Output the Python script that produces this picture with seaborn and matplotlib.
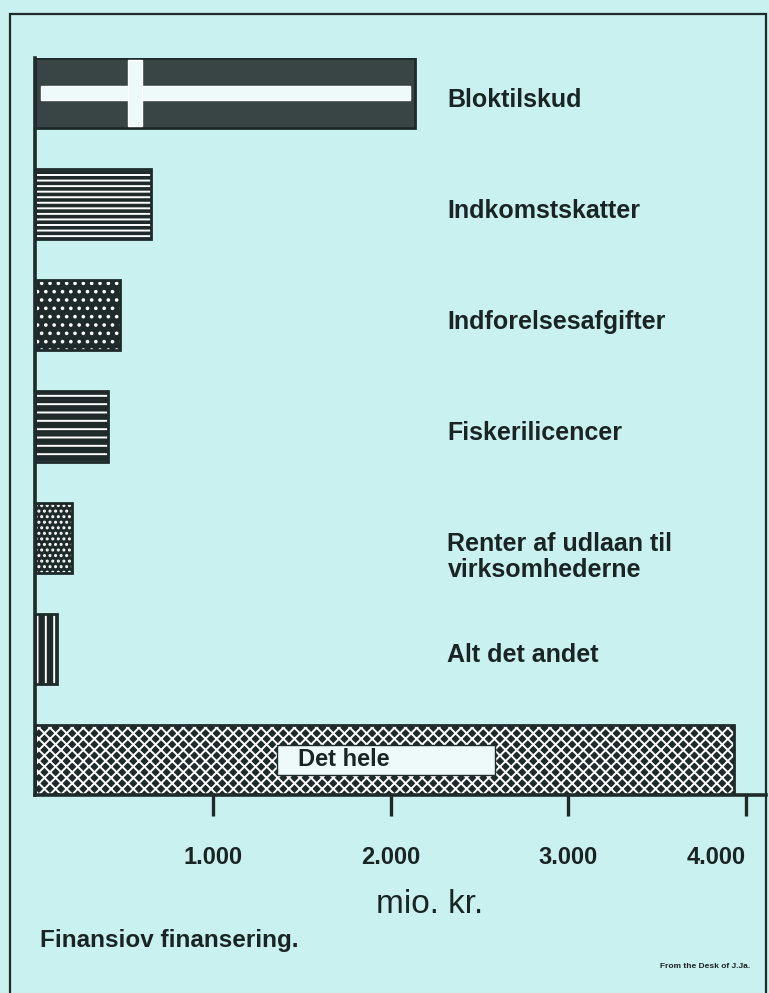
import numpy as np
import pandas as pd
import seaborn as sns
import matplotlib.pyplot as plt
from matplotlib.patches import Rectangle

# data (mio. kr.)
categories = ['Bloktilskud', 'Indkomstskatter', 'Indforelsesafgifter', 'Fiskerilicencer',
              'Renter af udlaan til\nvirksomhederne', 'Alt det andet', 'Det hele']
values = [2140, 650, 480, 410, 210, 125, 3930]
hatches = ['', '---', '..', '--', '...', '||', 'xxx']
ticks = [1000, 2000, 3000, 4000]
tick_labels = ['1.000', '2.000', '3.000', '4.000']

bg = '#c9f1ef'
dark = '#1f2b2b'
ink = '#1a2424'

sns.set_theme(style='white')
plt.rcParams['font.family'] = ['Liberation Sans', 'DejaVu Sans']
plt.rcParams['font.weight'] = 'bold'
plt.rcParams['hatch.linewidth'] = 1.4

df = pd.DataFrame({'post': categories, 'mio': values})

fig = plt.figure(figsize=(7.69, 9.93), dpi=100, facecolor=bg)
ax = fig.add_axes([35/769, (993-795)/993, 731/769, 737/993])
ax.set_facecolor(bg)

# filled, hatched bars
sns.barplot(data=df, x='mio', y='post', orient='h', color=dark, saturation=1,
            width=0.63, ax=ax)
bars = list(ax.patches)
for bar, h in zip(bars, hatches):
    bar.set_hatch(h)
    bar.set_edgecolor('white')   # hatch colour
    bar.set_linewidth(0)
bars[0].set_facecolor('#394545')

# white cross in the block grant bar
blok = values[0]
inset = blok * 0.015
cross_at = blok * 0.245
ax.barh(0, blok - 2*inset, left=inset, height=0.12, color='#eefafa', zorder=3)
ax.barh(0, blok * 0.035, left=cross_at, height=0.6, color='#eefafa', zorder=3)

# outlines
sns.barplot(data=df, x='mio', y='post', orient='h', color=dark, fill=False,
            linewidth=2, width=0.63, ax=ax)

# labels to the right of bars
for i, lab in enumerate(categories[:-1]):
    extra = 0.11 * lab.count('\n')
    ax.text(2320, i + 0.06 + extra, lab, va='center', ha='left', fontsize=18,
            fontweight='bold', color=ink, linespacing=1.1)

# box for the total
ax.add_patch(Rectangle((1360, 6 - 0.135), 1230, 0.27, facecolor='#eefafa',
                       edgecolor=dark, linewidth=1, zorder=4))
ax.text(1480, 6.0, 'Det hele', va='center', ha='left', fontsize=17,
        fontweight='bold', color=ink, zorder=5)

ax.set_xlim(0, 4112)
ax.set_ylim(6.315, -0.315)
ax.set_xticks(ticks)
ax.set_xticklabels(tick_labels, fontsize=17, fontweight='bold', color=ink)
ax.get_xticklabels()[-1].set_ha('right')
ax.set_yticks([])
ax.set_ylabel('')
ax.set_xlabel('mio. kr.', fontsize=24, fontweight='normal', color=ink)
ax.xaxis.set_label_coords(0.54, -0.128)
ax.tick_params(axis='x', length=15, width=2.4, pad=22, color=dark, direction='out', bottom=True)
for s in ['top', 'right']:
    ax.spines[s].set_visible(False)
for s in ['left', 'bottom']:
    ax.spines[s].set_linewidth(2.6)
    ax.spines[s].set_color(dark)

# outer frame
fig.add_artist(Rectangle((10/769, -0.02), 756/769, 1.02 - 14/993, transform=fig.transFigure,
                         fill=False, edgecolor=dark, linewidth=1.6))

fig.text(40/769, 1 - 940/993, 'Finansiov finansering.', fontsize=17.5, fontweight='bold',
         color=ink, va='center', ha='left')
fig.text(660/769, 1 - 966/993, 'From the Desk of J.Ja.', fontsize=6, fontweight='bold',
         color=ink, va='center', ha='left')

fig.savefig('out.png', dpi=100, facecolor=bg)
